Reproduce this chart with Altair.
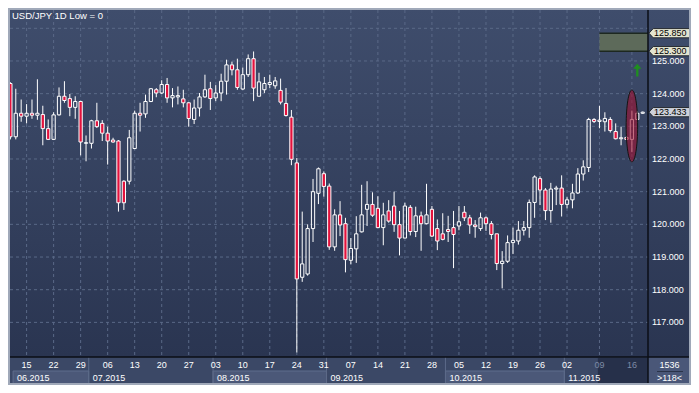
import altair as alt
import pandas as pd

# ---------------- data ----------------
opens = [124.31, 122.68, 123.40, 123.31, 123.40, 123.34, 123.36, 122.93, 122.60, 123.35,
         123.92, 123.85, 123.58, 123.76, 122.48, 122.48, 123.17, 123.09, 122.79, 122.58,
         122.55, 121.32, 121.32, 122.32, 123.40, 123.38, 123.76, 124.12, 124.02, 124.28,
         123.87, 123.90, 123.84, 123.72, 123.21, 123.56, 123.90, 124.15, 123.87, 124.02,
         124.38, 124.88, 124.73, 124.14, 124.58, 125.07, 123.92, 124.12, 124.28, 124.24,
         124.10, 123.70, 123.28, 121.88, 118.38, 118.48, 119.87, 120.95, 121.55, 121.17,
         119.31, 120.29, 120.02, 118.90, 119.25, 119.77, 120.46, 120.61, 120.49, 119.90,
         120.41, 120.56, 119.99, 119.58, 120.52, 119.78, 120.26, 120.02, 120.46, 119.87,
         119.71, 119.84, 119.90, 119.95, 120.37, 120.20, 119.98, 119.87, 120.20, 120.02,
         119.71, 118.80, 118.87, 119.44, 119.49, 119.82, 119.90, 120.67, 121.40, 121.05,
         120.42, 121.08, 121.11, 120.61, 120.75, 120.96, 121.54, 121.74, 123.21, 123.15,
         123.14, 123.21, 122.84, 122.62, 122.66, 122.60, 123.21, 123.40]
highs = [124.35, 124.15, 123.82, 123.68, 123.82, 124.44, 123.63, 123.21, 123.43, 124.19,
         124.38, 123.99, 123.92, 123.78, 122.72, 123.20, 123.72, 123.19, 122.99, 122.65,
         122.58, 121.35, 122.89, 123.48, 123.72, 123.97, 124.17, 124.17, 124.41, 124.48,
         124.17, 124.22, 124.12, 123.74, 123.82, 124.02, 124.58, 124.36, 124.26, 124.61,
         125.04, 124.98, 125.07, 124.80, 125.20, 125.29, 124.64, 124.51, 124.58, 124.51,
         124.46, 124.17, 123.50, 122.03, 120.39, 120.00, 121.39, 121.74, 121.62, 121.25,
         120.46, 120.71, 120.20, 119.58, 120.25, 121.21, 121.32, 120.98, 120.86, 120.66,
         120.74, 121.00, 120.41, 120.66, 120.59, 120.54, 120.39, 121.24, 120.56, 120.15,
         120.34, 120.26, 120.41, 120.56, 120.56, 120.29, 120.13, 120.36, 120.24, 120.10,
         119.71, 119.18, 119.66, 119.90, 120.10, 120.10, 120.76, 121.50, 121.47, 121.11,
         121.27, 121.18, 121.50, 120.83, 121.24, 121.72, 121.96, 123.26, 123.25, 123.63,
         123.43, 123.28, 123.09, 122.99, 122.70, 123.48, 123.46, 123.45]
lows = [122.60, 122.60, 123.14, 123.09, 123.23, 123.20, 122.42, 122.58, 122.58, 123.33,
        123.72, 123.31, 123.23, 122.11, 121.93, 122.32, 122.95, 122.55, 121.83, 122.50,
        120.39, 120.44, 121.22, 122.30, 122.84, 123.26, 123.74, 123.89, 123.99, 123.72,
        123.58, 123.67, 123.58, 122.99, 123.07, 123.30, 123.87, 123.50, 123.77, 123.77,
        123.97, 124.56, 124.12, 124.12, 124.51, 123.77, 123.92, 124.02, 124.17, 124.15,
        123.67, 123.30, 121.81, 116.08, 118.24, 118.43, 119.46, 120.62, 120.85, 119.22,
        119.19, 119.64, 118.53, 118.78, 118.82, 119.75, 119.95, 120.23, 119.90, 119.36,
        120.05, 119.77, 119.05, 119.58, 119.66, 119.61, 119.19, 120.00, 119.61, 119.21,
        119.51, 119.46, 118.66, 119.82, 120.10, 119.71, 119.59, 119.80, 119.80, 119.54,
        118.60, 118.04, 118.82, 119.09, 119.38, 119.66, 119.59, 120.20, 120.59, 120.13,
        120.05, 120.59, 120.24, 120.49, 120.49, 120.93, 121.34, 121.60, 123.10, 122.94,
        122.84, 122.81, 122.60, 122.42, 122.58, 122.21, 123.19, 123.38]
closes = [122.68, 123.40, 123.31, 123.40, 123.34, 123.40, 122.93, 122.60, 123.35, 123.92,
          123.79, 123.58, 123.76, 122.52, 122.50, 123.17, 122.99, 122.79, 122.55, 122.52,
          120.66, 120.66, 122.65, 123.40, 123.34, 123.76, 124.15, 124.02, 124.28, 123.87,
          123.94, 123.94, 123.72, 123.24, 123.56, 123.90, 124.12, 123.85, 124.02, 124.38,
          124.88, 124.73, 124.19, 124.58, 125.07, 124.17, 124.36, 124.31, 124.34, 124.39,
          123.74, 123.33, 121.99, 118.33, 118.79, 119.87, 121.00, 121.70, 121.16, 119.31,
          120.29, 119.98, 118.92, 119.26, 119.71, 120.29, 120.61, 120.28, 119.90, 120.29,
          120.10, 119.99, 119.58, 120.56, 119.78, 120.26, 120.02, 120.29, 119.64, 119.49,
          119.54, 119.78, 119.69, 120.08, 120.20, 119.98, 119.93, 120.20, 120.02, 119.69,
          118.80, 118.87, 119.44, 119.51, 119.82, 119.90, 120.67, 121.45, 121.05, 120.42,
          121.08, 121.11, 120.61, 120.75, 120.96, 121.54, 121.76, 123.21, 123.15, 123.19,
          123.24, 122.87, 122.62, 122.65, 122.60, 123.21, 123.40, 123.433]

grid_prices = [117, 118, 119, 120, 121, 122, 123, 124, 125, 126]
label_prices = [117, 118, 119, 120, 121, 122, 123, 124, 125]
day_ticks = [3, 8, 13, 18, 23, 28, 33, 38, 43, 48, 53, 58, 63, 68, 73, 78, 83, 88, 93, 98, 103, 109, 115]
day_labels = ["15", "22", "29", "06", "13", "20", "27", "03", "10", "17", "24", "31",
              "07", "14", "21", "28", "05", "12", "19", "26", "02", "09", "16"]
month_starts = [0.5, 14.5, 37.5, 58.5, 80.5, 102.5]
month_ends = [14.5, 37.5, 58.5, 80.5, 102.5, 117.98]
month_labels = ["06.2015", "07.2015", "08.2015", "09.2015", "10.2015", "11.2015"]
month_light = [True, False, True, False, True, False]
tag_prices = [125.85, 125.30, 123.433]
tag_labels = ["125.850", "125.300", "123.433"]
tag_fills = ["#e3e4d0", "#e3e4d0", "#cdd1da"]
zone_start = [109]
zone_top = [125.85]
zone_bottom = [125.30]
ellipse_at = [115]
ellipse_price = [123.01]
arrow_at = [116]
arrow_price = [124.72]
highlight_start = [108.7]
title_text = "USD/JPY 1D Low = 0"
corner_top = "1536"
corner_bottom = ">118<"

# ---------------- layout ----------------
W, H = 638, 347
PR, PB = 43, 28
FONT = "Liberation Sans"
xs = alt.Scale(domain=[-0.07, 117.98], nice=False, zero=False)
ys = alt.Scale(domain=[115.94, 126.56], nice=False, zero=False)
GRID = "#5a6987"

one = pd.DataFrame({"k": [0]})
candles = pd.DataFrame({"i": list(range(len(opens))), "o": opens, "h": highs, "l": lows, "c": closes})


def X(f):
    return alt.X(f, type="quantitative", scale=xs, axis=None)


def Y(f):
    return alt.Y(f, type="quantitative", scale=ys, axis=None)


grad = alt.LinearGradient(gradient="linear", x1=0, x2=0, y1=0, y2=1,
                          stops=[alt.GradientStop(color="#3f4d6c", offset=0),
                                 alt.GradientStop(color="#2a3551", offset=1)])

bg = alt.Chart(one).mark_rect(fill=grad).encode(
    x=alt.value(-2), x2=alt.value(W + PR), y=alt.value(-2), y2=alt.value(H))

hgrid = alt.Chart(pd.DataFrame({"p": grid_prices})).mark_rule(
    color=GRID, strokeDash=[3, 3], strokeWidth=1).encode(
    y=Y("p"), x=alt.value(0), x2=alt.value(W))

vgrid = alt.Chart(pd.DataFrame({"t": day_ticks})).mark_rule(
    color=GRID, strokeDash=[3, 3], strokeWidth=1).encode(
    x=X("t"), y=alt.value(0), y2=alt.value(H))

zone_df = pd.DataFrame({"s": zone_start, "top": zone_top, "bot": zone_bottom})
zone = alt.Chart(zone_df).mark_rect(fill="#5d6a5a").encode(
    x=X("s"), x2=alt.value(W), y=Y("top"), y2=alt.Y2("bot"))
zone_lines = alt.Chart(pd.DataFrame({"s": zone_start * 2, "p": zone_top + zone_bottom})).mark_rule(
    color="#1d2820", strokeWidth=1.5).encode(x=X("s"), x2=alt.value(W), y=Y("p"))

base = alt.Chart(candles).transform_calculate(
    top="max(datum.o, datum.c)", bot="min(datum.o, datum.c)",
    xa="datum.i - 0.3", xb="datum.i + 0.3")
wick_up = base.mark_rule(color="white", strokeWidth=1).encode(x=X("i"), y=Y("h"), y2=alt.Y2("top"))
wick_dn = base.mark_rule(color="white", strokeWidth=1).encode(x=X("i"), y=Y("bot"), y2=alt.Y2("l"))
bodies = base.mark_rect(stroke="white", strokeWidth=1).encode(
    x=X("xa"), x2=alt.X2("xb"), y=Y("top"), y2=alt.Y2("bot"),
    fill=alt.condition("datum.c < datum.o", alt.value("#e3123d"), alt.value("transparent")))

ell_path = "M0,-1 A0.16,1 0 1,1 0,1 A0.16,1 0 1,1 0,-1 Z"
ellipse = alt.Chart(pd.DataFrame({"i": ellipse_at, "p": ellipse_price})).mark_point(
    shape=ell_path, size=5184, filled=True, fill="#a01030", fillOpacity=0.6,
    stroke="#141414", strokeOpacity=1, strokeWidth=1, opacity=1).encode(x=X("i"), y=Y("p"))

arrow_path = "M0,-1 L-0.65,-0.2 L-0.18,-0.2 L-0.18,1 L0.18,1 L0.18,-0.2 L0.65,-0.2 Z"
arrow = alt.Chart(pd.DataFrame({"i": arrow_at, "p": arrow_price})).mark_point(
    shape=arrow_path, size=160, filled=True, fill="#1f8f1f", opacity=1, strokeWidth=0).encode(
    x=X("i"), y=Y("p"))

band = alt.Chart(one).mark_rect(fill="#3b4866").encode(
    x=alt.value(-2), x2=alt.value(W), y=alt.value(H), y2=alt.value(H + PB))
corner = alt.Chart(one).mark_rect(fill="#4a5778").encode(
    x=alt.value(W), x2=alt.value(W + PR), y=alt.value(H), y2=alt.value(H + PB))

months = pd.DataFrame({"s": month_starts, "e": month_ends, "lab": month_labels, "light": month_light})
month_boxes = alt.Chart(months).transform_filter("datum.light").mark_rect(
    fill="#4b5878", stroke="#5f6d8c", strokeWidth=1).encode(
    x=X("s"), x2=alt.X2("e"), y=alt.value(H + 14), y2=alt.value(H + 27))
month_sep = alt.Chart(months).transform_filter("datum.s > 1").mark_rule(
    color="#5c6a88", strokeWidth=1).encode(x=X("s"), y=alt.value(H), y2=alt.value(H + PB))
highlight = alt.Chart(pd.DataFrame({"s": highlight_start})).mark_rect(fill="#26304a").encode(
    x=X("s"), x2=alt.value(W), y=alt.value(H + 1), y2=alt.value(H + PB))
month_text = alt.Chart(months).mark_text(
    align="left", baseline="middle", dx=4, font=FONT, fontSize=9, color="white").encode(
    x=X("s"), y=alt.value(H + 21), text="lab:N")

days = pd.DataFrame({"t": day_ticks, "lab": day_labels})
day_text = alt.Chart(days).mark_text(
    align="center", baseline="middle", font=FONT, fontSize=9).encode(
    x=X("t"), y=alt.value(H + 8), text="lab:N",
    color=alt.condition("datum.t >= 109", alt.value("#7d8aa5"), alt.value("white")))

seps_v = alt.Chart(one).mark_rule(color="#0b0e16", strokeWidth=1.5).encode(
    x=alt.value(W), y=alt.value(-2), y2=alt.value(H + PB))
seps_h = alt.Chart(one).mark_rule(color="#0b0e16", strokeWidth=1.5).encode(
    x=alt.value(-2), x2=alt.value(W + PR), y=alt.value(H))

ylabels = alt.Chart(pd.DataFrame({"p": label_prices})).mark_text(
    align="left", baseline="middle", font=FONT, fontSize=9, color="white").encode(
    y=Y("p"), x=alt.value(W + 4), text=alt.Text("p:Q", format=".3f"))

tag_path = "M-1,0 L-0.8,-0.22 L1,-0.22 L1,0.22 L-0.8,0.22 Z"
tags_df = pd.DataFrame({"p": tag_prices, "lab": tag_labels, "f": tag_fills})
tags = alt.Chart(tags_df).mark_point(
    shape=tag_path, size=1764, filled=True, opacity=1, stroke="#262a30", strokeWidth=1).encode(
    x=alt.value(W + 22), y=Y("p"), fill=alt.Fill("f:N", scale=None))
tag_text = alt.Chart(tags_df).mark_text(
    align="left", baseline="middle", font=FONT, fontSize=9, color="black").encode(
    x=alt.value(W + 6), y=Y("p"), text="lab:N")

corner_text_top = alt.Chart(pd.DataFrame({"lab": [corner_top]})).mark_text(
    align="center", baseline="middle", font=FONT, fontSize=9, color="white").encode(
    x=alt.value(W + 21.5), y=alt.value(H + 8), text="lab:N")
corner_text_bot = alt.Chart(pd.DataFrame({"lab": [corner_bottom]})).mark_text(
    align="center", baseline="middle", font=FONT, fontSize=9, color="white").encode(
    x=alt.value(W + 21.5), y=alt.value(H + 21), text="lab:N")
corner_line = alt.Chart(one).mark_rule(color="#2a3349", strokeWidth=1).encode(
    x=alt.value(W + 9), x2=alt.value(W + 35), y=alt.value(H + 14.5))

title = alt.Chart(pd.DataFrame({"lab": [title_text]})).mark_text(
    align="left", baseline="middle", font=FONT, fontSize=9.5, color="white").encode(
    x=alt.value(2), y=alt.value(6), text="lab:N")

frame = alt.Chart(one).mark_rect(fill="transparent", stroke="#a0a9b9", strokeWidth=2).encode(
    x=alt.value(-1), x2=alt.value(W + PR - 1), y=alt.value(-1), y2=alt.value(H + PB - 1))

chart = alt.layer(
    bg, hgrid, vgrid, zone, zone_lines, wick_up, wick_dn, bodies, ellipse, arrow,
    band, corner, month_boxes, month_sep, highlight, month_text, day_text,
    seps_v, seps_h, ylabels, tags, tag_text, corner_text_top, corner_text_bot,
    corner_line, title, frame
).properties(
    width=W, height=H,
    padding={"left": 2, "top": 2, "right": PR, "bottom": PB},
    autosize=alt.AutoSizeParams(type="none"),
    background="#2f3a57"
).configure_view(strokeWidth=0)

chart.save("out.html", embed_options={"renderer": "svg", "actions": False})
